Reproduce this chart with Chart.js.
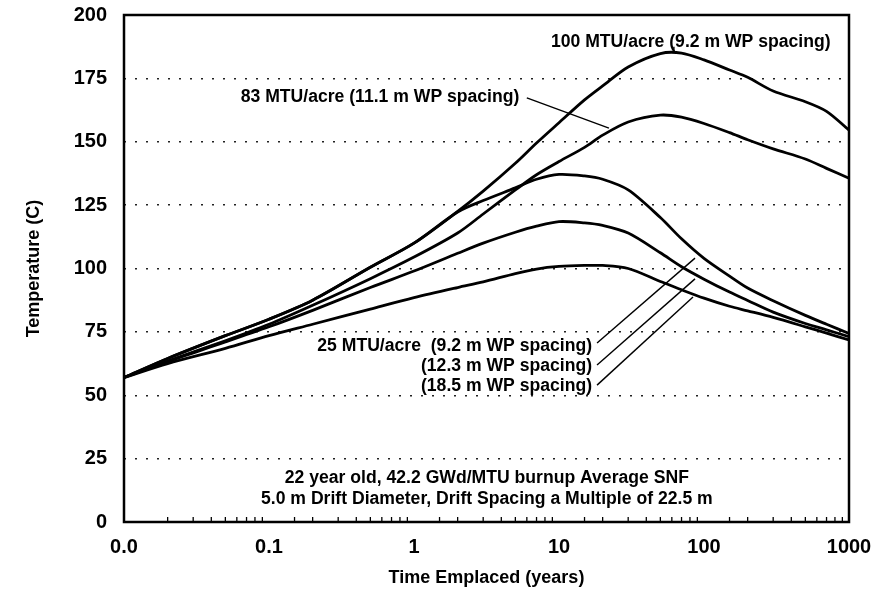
<!DOCTYPE html>
<html>
<head>
<meta charset="utf-8">
<script src="https://cdn.jsdelivr.net/npm/chart.js@4.4.1/dist/chart.umd.min.js"></script>
<style>
  html, body { margin: 0; padding: 0; background: #fff; }
</style>
</head>
<body>
<canvas id="chart" width="890" height="591"></canvas>
<script>
// time after emplacement (years)
const times = [0.01, 0.02, 0.05, 0.1, 0.2, 0.5, 1, 2, 3, 5, 7, 10, 15, 20, 30, 50, 70, 100, 150, 200, 300, 500, 700, 1000];

// drift wall temperature (C)
const mtu100_92 = [57, 64.5, 73.5, 80, 87.5, 100.5, 110, 122.5, 130.5, 141.5, 149.5, 157.5, 166.5, 172, 179.5, 184.8, 185, 182.3, 178.3, 175.4, 170, 165.8, 162, 154.6];
const mtu83_111 = [57, 63.5, 71.5, 78, 85.5, 96, 104.5, 114, 121.5, 131, 137, 142.2, 147.8, 152.6, 157.8, 160.5, 159.7, 157.2, 153.6, 150.8, 147.2, 143.2, 139.5, 135.6];
const mtu25_92 = [57, 64.5, 73.5, 80, 87.5, 100.5, 110, 122.3, 126.8, 131.8, 135.2, 137.1, 136.5, 135.2, 131, 120.1, 111.7, 104, 97, 92.3, 87.3, 81.5, 78, 74.4];
const mtu25_123 = [57, 63.3, 71, 77, 83.5, 92.5, 99, 106, 110, 114.3, 116.7, 118.5, 118, 117, 114, 106.2, 100.7, 95.8, 90.7, 87.4, 82.8, 78.3, 75.8, 73.1];
const mtu25_185 = [57, 62.5, 68.5, 73.5, 78, 84, 88.5, 92.5, 94.7, 98, 99.8, 100.8, 101.2, 101.2, 100, 94.9, 91.6, 88.3, 85.1, 83.3, 80.7, 77, 74.5, 71.8];

// axis labels
const decadeTicks = [0.01, 0.1, 1, 10, 100, 1000];
const decadeLabels = ['0.0', '0.1', '1', '10', '100', '1000'];

// callout leader lines, in data units
const leaders = [
  [{x: 62, y: 187.5}, {x: 62, y: 185}],
  [{x: 6.0, y: 167.3}, {x: 22.1, y: 155.4}],
  [{x: 18.3, y: 70.6}, {x: 86.7, y: 104.1}],
  [{x: 18.3, y: 61.9}, {x: 86.7, y: 95.9}],
  [{x: 18.3, y: 54}, {x: 84, y: 88.8}]
];

const notes = [
  {text: '100 MTU/acre (9.2 m WP spacing)', x: 81, y: 189.3, align: 'center'},
  {text: '83 MTU/acre (11.1 m WP spacing)', x: 0.583, y: 167.7, align: 'center'},
  {text: '25 MTU/acre  (9.2 m WP spacing)', x: 16.9, y: 69.3, align: 'right'},
  {text: '(12.3 m WP spacing)', x: 16.9, y: 61.4, align: 'right'},
  {text: '(18.5 m WP spacing)', x: 16.9, y: 53.5, align: 'right'},
  {text: '22 year old, 42.2 GWd/MTU burnup Average SNF', x: 3.18, y: 17.2, align: 'center'},
  {text: '5.0 m Drift Diameter, Drift Spacing a Multiple of 22.5 m', x: 3.18, y: 8.9, align: 'center'}
];

const FONT = '"Liberation Sans", Arial, Helvetica, sans-serif';

function curve(vals) {
  return {
    data: times.map((t, i) => ({x: t, y: vals[i]})),
    borderColor: '#000',
    borderWidth: 2.8,
    pointRadius: 0,
    fill: false,
    tension: 0.3
  };
}

const datasets = [mtu100_92, mtu83_111, mtu25_92, mtu25_123, mtu25_185].map(curve);
leaders.forEach(seg => datasets.push({
  data: seg,
  borderColor: '#000',
  borderWidth: 1.4,
  pointRadius: 0,
  tension: 0,
  fill: false
}));

const decorations = {
  id: 'decorations',
  afterDraw(chart) {
    const {ctx, chartArea: a, scales: {x, y}} = chart;
    ctx.save();
    // minor ticks along the bottom, pointing inward
    ctx.strokeStyle = '#000';
    ctx.lineWidth = 1.3;
    x.ticks.forEach(t => {
      if (decadeTicks.some(d => Math.abs(d - t.value) / d < 1e-6)) return;
      const px = x.getPixelForValue(t.value);
      ctx.beginPath();
      ctx.moveTo(px, a.bottom);
      ctx.lineTo(px, a.bottom - 5);
      ctx.stroke();
    });
    // plot frame
    ctx.lineWidth = 2.5;
    ctx.strokeRect(a.left, a.top, a.right - a.left, a.bottom - a.top);
    // text callouts
    ctx.fillStyle = '#000';
    ctx.font = 'bold 17.6px ' + FONT;
    ctx.textBaseline = 'middle';
    notes.forEach(n => {
      ctx.textAlign = n.align;
      ctx.fillText(n.text, x.getPixelForValue(n.x), y.getPixelForValue(n.y));
    });
    ctx.restore();
  }
};

new Chart(document.getElementById('chart'), {
  type: 'line',
  data: {datasets},
  options: {
    responsive: false,
    animation: false,
    layout: {padding: {left: 0, top: 15, right: 41, bottom: 0}},
    plugins: {legend: {display: false}, tooltip: {enabled: false}},
    scales: {
      x: {
        type: 'logarithmic',
        min: 0.01,
        max: 1000,
        afterFit: s => { s.height = 69; s.paddingLeft = 0; s.paddingRight = 0; },
        grid: {display: false, drawTicks: false},
        border: {display: false},
        ticks: {
          autoSkip: false,
          maxRotation: 0,
          padding: 13,
          color: '#000',
          font: {family: FONT, size: 20, weight: 'bold'},
          callback: v => {
            const i = decadeTicks.findIndex(d => Math.abs(d - v) / d < 1e-6);
            return i >= 0 ? decadeLabels[i] : '';
          }
        },
        title: {
          display: true,
          text: 'Time Emplaced (years)',
          color: '#000',
          font: {family: FONT, size: 18, weight: 'bold'},
          padding: {top: 0, bottom: 2}
        }
      },
      y: {
        min: 0,
        max: 200,
        afterFit: s => { s.width = 124; s.paddingTop = 0; s.paddingBottom = 0; },
        grid: {
          drawTicks: false,
          lineWidth: 1.4,
          color: c => (c.tick.value === 0 || c.tick.value === 200) ? 'rgba(0,0,0,0)' : '#222'
        },
        border: {display: false, dash: [2, 9]},
        ticks: {
          stepSize: 25,
          padding: 17,
          color: '#000',
          font: {family: FONT, size: 20, weight: 'bold'}
        },
        title: {
          display: true,
          text: 'Temperature (C)',
          color: '#000',
          font: {family: FONT, size: 18, weight: 'bold'},
          padding: {top: 23, bottom: 0}
        }
      }
    }
  },
  plugins: [decorations]
});
</script>
</body>
</html>
